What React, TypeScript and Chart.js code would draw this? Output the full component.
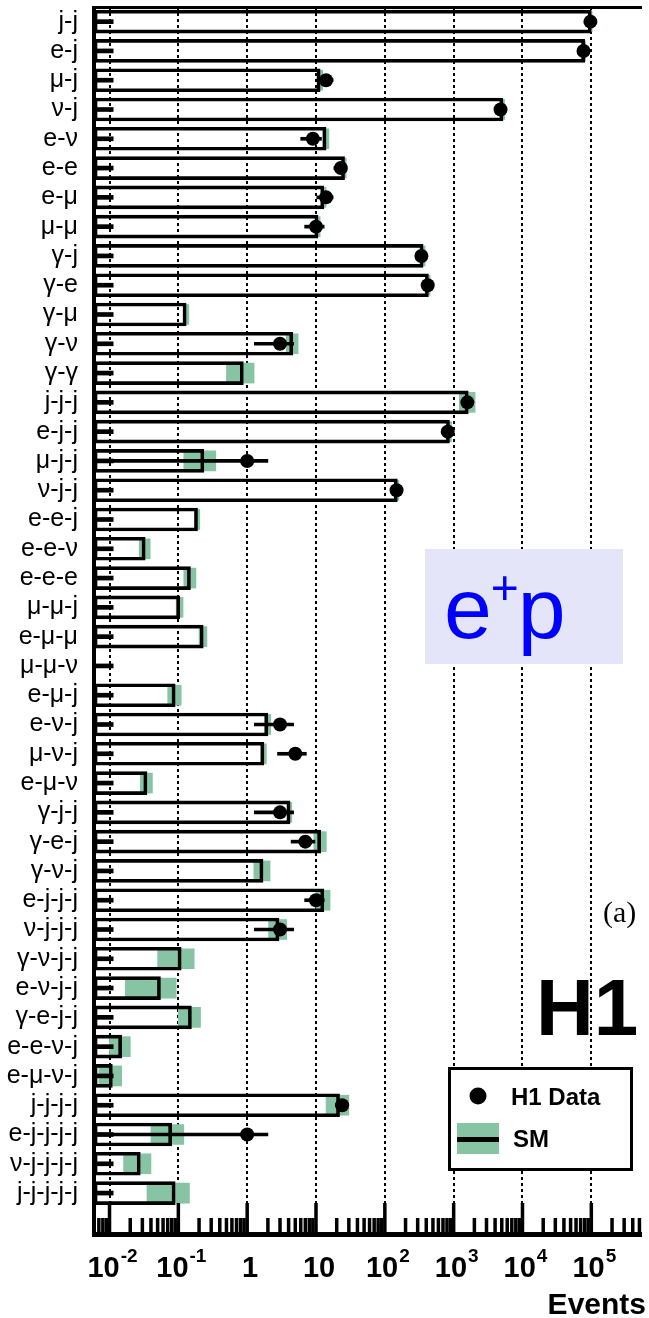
import React, { useEffect, useRef } from "react";
import { Chart, registerables } from "chart.js";
Chart.register(...registerables);

// ---------------- data ----------------
const categories = [
  "j-j", "e-j", "μ-j", "ν-j", "e-ν", "e-e", "e-μ", "μ-μ", "γ-j", "γ-e", "γ-μ", "γ-ν", "γ-γ",
  "j-j-j", "e-j-j", "μ-j-j", "ν-j-j", "e-e-j", "e-e-ν", "e-e-e", "μ-μ-j", "e-μ-μ", "μ-μ-ν",
  "e-μ-j", "e-ν-j", "μ-ν-j", "e-μ-ν", "γ-j-j", "γ-e-j", "γ-ν-j", "e-j-j-j", "ν-j-j-j",
  "γ-ν-j-j", "e-ν-j-j", "γ-e-j-j", "e-e-ν-j", "e-μ-ν-j", "j-j-j-j", "e-j-j-j-j", "ν-j-j-j-j",
  "j-j-j-j-j",
];

// Standard Model expectation (events)
const smValues = [
  100000, 80000, 11.5, 5200, 14, 26, 13, 10.7, 360, 430, 0.13, 4.6, 0.88,
  1630, 870, 0.235, 152, 0.19, 0.033, 0.15, 0.105, 0.23, null,
  0.09, 2.0, 1.75, 0.035, 4.2, 11.7, 1.7, 13, 2.9,
  0.11, 0.055, 0.155, 0.015, 0.011, 22, 0.08, 0.028,
  0.09,
];
// SM uncertainty (events)
const smErrors = [
  3000, 3000, 1.0, 300, 1.4, 1.5, 1.0, 0.8, 25, 25, 0.012, 0.9, 0.38,
  420, 60, 0.115, 8, 0.015, 0.006, 0.03, 0.012, 0.03, null,
  0.02, 0.2, 0.15, 0.007, 0.25, 2.4, 0.45, 3, 0.85,
  0.06, 0.038, 0.055, 0.005, 0.004, 8, 0.04, 0.012,
  0.055,
];
// H1 data (events)
const dataValues = [
  97000, 77000, 14, 4800, 9, 23, 14, 10, 340, 420, null, 3, null,
  1580, 820, 1, 148, null, null, null, null, null, null,
  null, 3, 5, null, 3, 7, null, 10, 3,
  null, null, null, null, null, 24, 1, null,
  null,
];
const dataErrors = [
  311, 277, 3.74, 69, 3, 4.8, 3.74, 3.16, 18.4, 20.5, null, 1.73, null,
  40, 29, 1, 12.2, null, null, null, null, null, null,
  null, 1.73, 2.24, null, 1.73, 2.65, null, 3.16, 1.73,
  null, null, null, null, null, 4.9, 1, null,
  null,
];

const tickValues = [0.01, 0.1, 1, 10, 100, 1000, 10000, 100000];
const tickBases = ["10", "10", "1", "10", "10", "10", "10", "10"];
const tickExps = ["-2", "-1", "", "", "2", "3", "4", "5"];
const minorMultipliers = [2, 3, 4, 5, 6, 7, 8, 9];
const minorDecades = [0.001, 0.01, 0.1, 1, 10, 100, 1000, 10000, 100000];

const X_MIN = 0.00595;
const X_MAX = 545000;
const ARROW_END = 0.0113;

const GREEN = "#87c4a4";
const SANS = "'Liberation Sans', Arial, Helvetica, sans-serif";

const decorPlugin = {
  id: "decor",
  beforeDatasetsDraw(chart: any) {
    const { ctx, chartArea: ca, scales } = chart;
    const x = scales.x;
    ctx.save();
    ctx.strokeStyle = "#000";
    ctx.lineWidth = 2;
    ctx.setLineDash([3, 3]);
    tickValues.forEach((v) => {
      const px = Math.round(x.getPixelForValue(v));
      ctx.beginPath();
      ctx.moveTo(px, ca.top);
      ctx.lineTo(px, ca.bottom - 34);
      ctx.stroke();
    });
    ctx.restore();
  },
  afterDatasetsDraw(chart: any) {
    const { ctx, chartArea: ca, scales } = chart;
    const x = scales.x;
    ctx.save();

    // e+p box
    ctx.fillStyle = "#e5e5fa";
    ctx.fillRect(425, 549, 198, 115);
    ctx.fillStyle = "#0000ff";
    ctx.textBaseline = "alphabetic";
    ctx.textAlign = "left";
    ctx.font = `86px ${SANS}`;
    let tx = 444;
    ctx.fillText("e", tx, 638);
    tx += ctx.measureText("e").width;
    ctx.font = `48px ${SANS}`;
    ctx.fillText("+", tx - 1, 604);
    tx += ctx.measureText("+").width - 2;
    ctx.font = `86px ${SANS}`;
    ctx.fillText("p", tx, 638);

    // (a)
    ctx.fillStyle = "#000";
    ctx.font = `30px 'Liberation Serif', 'Times New Roman', serif`;
    ctx.fillText("(a)", 603, 922);

    // H1
    ctx.font = `bold 80px ${SANS}`;
    ctx.fillText("H1", 536, 1035);

    // legend
    ctx.fillStyle = "#fff";
    ctx.fillRect(449, 1068, 183, 102);
    ctx.strokeStyle = "#000";
    ctx.lineWidth = 3;
    ctx.setLineDash([]);
    ctx.strokeRect(449.5, 1068.5, 182, 101);
    ctx.fillStyle = "#000";
    ctx.beginPath();
    ctx.arc(478, 1096, 8.5, 0, Math.PI * 2);
    ctx.fill();
    ctx.font = `bold 24px ${SANS}`;
    ctx.textBaseline = "middle";
    ctx.fillText("H1 Data", 511, 1098);
    ctx.fillStyle = GREEN;
    ctx.fillRect(457, 1123, 42, 31);
    ctx.fillStyle = "#000";
    ctx.fillRect(457, 1137, 42, 5);
    ctx.fillText("SM", 513, 1140);

    // axes frame
    ctx.fillRect(ca.left - 2, ca.top - 1, ca.right - ca.left + 2, 3);
    ctx.fillRect(ca.left - 2, ca.top - 1, 4, ca.bottom - ca.top + 1);
    ctx.fillRect(ca.left - 2, ca.bottom - 5, ca.right - ca.left + 2, 5);

    // minor ticks
    minorDecades.forEach((d) => {
      minorMultipliers.forEach((m) => {
        const v = d * m;
        if (v < X_MIN || v > X_MAX) return;
        const px = x.getPixelForValue(v);
        ctx.fillRect(px - 1.75, ca.bottom - 19, 3.5, 19);
      });
    });
    // major ticks + labels
    tickValues.forEach((v, i) => {
      const px = x.getPixelForValue(v);
      ctx.fillRect(px - 1.75, ca.bottom - 34, 3.5, 34);
      ctx.textBaseline = "alphabetic";
      ctx.textAlign = "left";
      ctx.font = `bold 29px ${SANS}`;
      const bw = ctx.measureText(tickBases[i]).width;
      ctx.font = `bold 19px ${SANS}`;
      const ew = tickExps[i] ? ctx.measureText(tickExps[i]).width + 1 : 0;
      const start = px + 3 - (bw + ew) / 2;
      ctx.font = `bold 29px ${SANS}`;
      ctx.fillText(tickBases[i], start, 1277);
      if (tickExps[i]) {
        ctx.font = `bold 19px ${SANS}`;
        ctx.fillText(tickExps[i], start + bw + 1, 1262);
      }
    });

    // axis title
    ctx.font = `bold 30px ${SANS}`;
    ctx.textAlign = "right";
    ctx.fillText("Events", 646, 1314);

    ctx.restore();
  },
};

export default function App() {
  const ref = useRef<HTMLCanvasElement | null>(null);

  useEffect(() => {
    if (!ref.current) return;
    const labels = [...categories, ""];

    const greenBand = smValues.map((v, i) =>
      v == null ? null : [Math.max(v - (smErrors[i] as number), X_MIN), v + (smErrors[i] as number)]
    );
    const smBars = smValues.map((v) => (v == null ? null : [X_MIN, v]));
    const errBars = dataValues.map((v, i) =>
      v == null ? null : [Math.max(v - (dataErrors[i] as number), X_MIN), v + (dataErrors[i] as number)]
    );
    const arrows = categories.map(() => [X_MIN, ARROW_END]);
    const points: any[] = [];
    dataValues.forEach((v, i) => {
      if (v != null) points.push({ x: v, y: categories[i] });
    });

    const chart = new Chart(ref.current, {
      type: "bar",
      data: {
        labels,
        datasets: [
          {
            label: "SM uncertainty",
            data: greenBand as any,
            backgroundColor: GREEN,
            borderWidth: 0,
            barThickness: 20,
            grouped: false,
            order: 5,
          } as any,
          {
            label: "SM",
            data: smBars as any,
            backgroundColor: "rgba(0,0,0,0)",
            borderColor: "#000",
            borderWidth: 3,
            borderSkipped: false,
            barThickness: 23,
            grouped: false,
            order: 4,
          },
          {
            label: "Data error",
            data: errBars as any,
            backgroundColor: "#000",
            borderWidth: 0,
            barThickness: 3,
            grouped: false,
            order: 3,
          },
          {
            label: "Arrow",
            data: arrows as any,
            backgroundColor: "#000",
            borderWidth: 0,
            barThickness: 4,
            grouped: false,
            order: 2,
          },
          {
            type: "line",
            label: "H1 Data",
            data: points,
            indexAxis: "y",
            showLine: false,
            pointRadius: 7,
            pointBackgroundColor: "#000",
            pointBorderWidth: 0,
            order: 1,
          } as any,
        ],
      },
      options: {
        indexAxis: "y",
        responsive: false,
        animation: false,
        devicePixelRatio: 1,
        events: [],
        layout: { padding: { top: 6, right: 0, left: 0, bottom: 0 } },
        plugins: { legend: { display: false }, tooltip: { enabled: false } },
        scales: {
          x: {
            type: "logarithmic",
            min: X_MIN,
            max: X_MAX,
            bounds: "data",
            grid: { display: false, drawTicks: false },
            border: { display: false },
            ticks: { display: false },
            afterFit: (s: any) => {
              s.height = 81;
              s.paddingLeft = 0;
              s.paddingRight = 0;
            },
          },
          y: {
            type: "category",
            offset: true,
            grid: { display: false, drawTicks: false },
            border: { display: false },
            ticks: {
              autoSkip: false,
              padding: 16,
              color: "#000",
              font: { family: SANS, size: 25 },
            },
            afterFit: (s: any) => {
              s.width = 94;
              s.paddingTop = 0;
              s.paddingBottom = 0;
            },
          },
        } as any,
      },
      plugins: [decorPlugin],
    });
    return () => chart.destroy();
  }, []);

  return (
    <div style={{ position: "absolute", left: 0, top: 0, width: 649, height: 1318, background: "#fff" }}>
      <canvas ref={ref} width={649} height={1318} style={{ display: "block", width: 649, height: 1318 }} />
    </div>
  );
}
